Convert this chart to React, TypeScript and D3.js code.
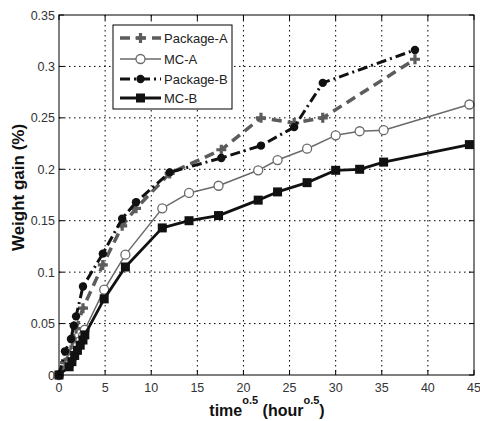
import React from "react";
import * as d3 from "d3";

const timePackage = [0, 0.65, 1.3, 1.6, 1.85, 2.6, 4.75, 6.85, 8.35, 12.0, 17.6, 21.9, 25.5, 28.6, 38.6];
const packageA = [0, 0.012, 0.024, 0.035, 0.045, 0.065, 0.107, 0.145, 0.162, 0.196, 0.219, 0.25, 0.245, 0.25, 0.307];
const packageB = [0, 0.023, 0.035, 0.048, 0.057, 0.086, 0.118, 0.152, 0.168, 0.197, 0.211, 0.223, 0.241, 0.284, 0.316];

const timeMC = [0, 1.1, 1.4, 1.7, 2.0, 2.3, 2.6, 2.8, 4.9, 7.2, 11.2, 14.1, 17.3, 21.6, 23.7, 26.9, 30.0, 32.6, 35.2, 44.5];
const mcA = [0, 0.01, 0.016, 0.022, 0.028, 0.033, 0.038, 0.044, 0.083, 0.117, 0.162, 0.177, 0.184, 0.199, 0.209, 0.22, 0.233, 0.237, 0.238, 0.263];
const mcB = [0, 0.008, 0.013, 0.019, 0.024, 0.029, 0.034, 0.039, 0.074, 0.105, 0.143, 0.15, 0.155, 0.17, 0.178, 0.187, 0.199, 0.2, 0.207, 0.224];

const xTicks = [0, 5, 10, 15, 20, 25, 30, 35, 40, 45];
const yTicks = [0, 0.05, 0.1, 0.15, 0.2, 0.25, 0.3, 0.35];
const yTickLabels = ["0", "0.05", "0.1", "0.15", "0.2", "0.25", "0.3", "0.35"];
const seriesNames = ["Package-A", "MC-A", "Package-B", "MC-B"];

const W = 480, H = 421;
const L = 59, R = 474, T = 15, B = 375;

export default function App() {
  const x = d3.scaleLinear().domain([0, 45]).range([L, R]);
  const y = d3.scaleLinear().domain([0, 0.35]).range([B, T]);
  const line = d3.line<[number, number]>().x(d => x(d[0])).y(d => y(d[1]));

  const sA: [number, number][] = timePackage.map((t, i) => [t, packageA[i]]);
  const sB: [number, number][] = timePackage.map((t, i) => [t, packageB[i]]);
  const sMA: [number, number][] = timeMC.map((t, i) => [t, mcA[i]]);
  const sMB: [number, number][] = timeMC.map((t, i) => [t, mcB[i]]);

  const styles = [
    { color: "#5c5c5c", width: 3.5, dash: "10,6", marker: "plus" },
    { color: "#6a6a6a", width: 1.5, dash: "", marker: "circle" },
    { color: "#111", width: 3, dash: "10,4,2,4", marker: "dot" },
    { color: "#111", width: 2.8, dash: "", marker: "square" },
  ];
  const data = [sA, sMA, sB, sMB];

  const marker = (kind: string, cx: number, cy: number, color: string, key: any) => {
    if (kind === "plus")
      return <path key={key} d={`M${cx - 5},${cy}H${cx + 5}M${cx},${cy - 5}V${cy + 5}`} stroke={color} strokeWidth={3.2} />;
    if (kind === "circle")
      return <circle key={key} cx={cx} cy={cy} r={4.5} fill="white" stroke={color} strokeWidth={1.3} />;
    if (kind === "dot")
      return <circle key={key} cx={cx} cy={cy} r={4.2} fill={color} />;
    return <rect key={key} x={cx - 4.5} y={cy - 4.5} width={9} height={9} fill={color} />;
  };

  const legendY = [38, 59, 79, 98];

  return (
    <svg width={W} height={H} style={{ position: "absolute", left: 0, top: 0, background: "white" }}
      fontFamily="'Liberation Sans', Arial, sans-serif">
      <rect x={0} y={0} width={W} height={H} fill="white" />
      {/* grid */}
      {xTicks.slice(1, -1).map(t => (
        <line key={"gx" + t} x1={x(t)} x2={x(t)} y1={T} y2={B} stroke="#000" strokeWidth={1} strokeDasharray="1.5,3.5" />
      ))}
      {yTicks.slice(1, -1).map(t => (
        <line key={"gy" + t} x1={L} x2={R} y1={y(t)} y2={y(t)} stroke="#000" strokeWidth={1} strokeDasharray="1.5,3.5" />
      ))}
      {/* ticks */}
      {xTicks.map(t => (
        <g key={"tx" + t}>
          <line x1={x(t)} x2={x(t)} y1={B} y2={B - 5} stroke="#000" />
          <line x1={x(t)} x2={x(t)} y1={T} y2={T + 5} stroke="#000" />
          <text x={x(t)} y={B + 17} textAnchor="middle" fontSize={12.5} fill="#333">{t}</text>
        </g>
      ))}
      {yTicks.map((t, i) => (
        <g key={"ty" + t}>
          <line x1={L} x2={L + 5} y1={y(t)} y2={y(t)} stroke="#000" />
          <line x1={R} x2={R - 5} y1={y(t)} y2={y(t)} stroke="#000" />
          <text x={L - 4} y={y(t) + 4.5} textAnchor="end" fontSize={12.5} fill="#333">{yTickLabels[i]}</text>
        </g>
      ))}
      {/* series */}
      {data.map((s, i) => (
        <g key={"s" + i}>
          <path d={line(s) || ""} fill="none" stroke={styles[i].color} strokeWidth={styles[i].width}
            strokeDasharray={styles[i].dash || undefined} strokeLinejoin="round" />
          {s.map((p, j) => marker(styles[i].marker, x(p[0]), y(p[1]), styles[i].color, j))}
        </g>
      ))}
      {/* frame */}
      <rect x={L} y={T} width={R - L} height={B - T} fill="none" stroke="#000" strokeWidth={1} />
      {/* legend */}
      <rect x={113} y={25} width={119} height={84} fill="white" stroke="#000" strokeWidth={1} />
      {seriesNames.map((n, i) => (
        <g key={"l" + i}>
          <line x1={120} x2={161} y1={legendY[i]} y2={legendY[i]} stroke={styles[i].color} strokeWidth={styles[i].width}
            strokeDasharray={styles[i].dash || undefined} />
          {marker(styles[i].marker, 140.5, legendY[i], styles[i].color, "m")}
          <text x={164} y={legendY[i] + 4.5} fontSize={13} fill="#222">{n}</text>
        </g>
      ))}
      {/* axis labels */}
      <text x={267} y={416} textAnchor="middle" fontSize={16} fontWeight="bold" fill="#111">
        time<tspan fontSize={11} dy={-12}>o.5</tspan><tspan dy={12}> (hour</tspan><tspan fontSize={11} dy={-12}>o.5</tspan><tspan dy={12}>)</tspan>
      </text>
      <text transform={`translate(24,${(118 + 257) / 2}) rotate(-90)`} textAnchor="middle" fontSize={17} fontWeight="bold" fill="#111">
        Weight gain (%)
      </text>
    </svg>
  );
}
